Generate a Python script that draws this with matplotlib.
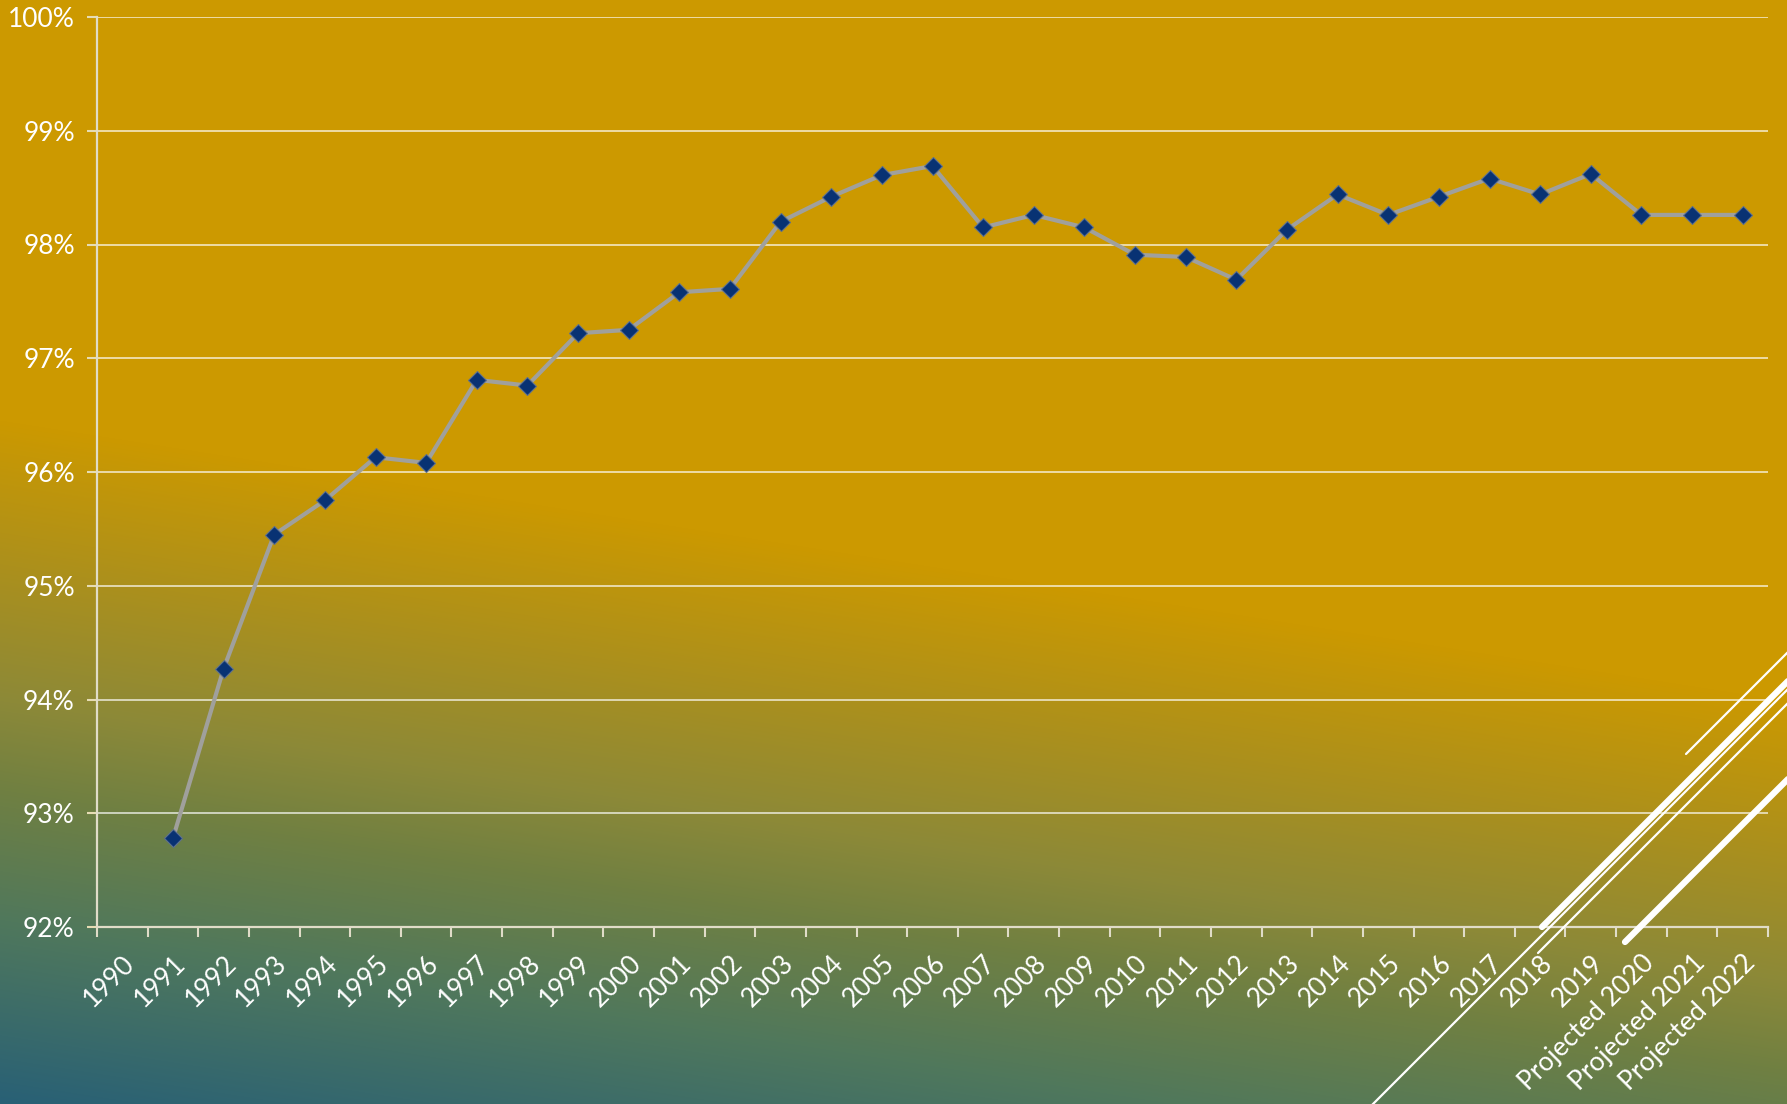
import numpy as np
import matplotlib
matplotlib.use("Agg")
import matplotlib.pyplot as plt
from matplotlib.lines import Line2D
from matplotlib.ticker import FixedLocator, FuncFormatter

plt.rcParams["font.family"] = ["Lato", "DejaVu Sans"]

# ---- data ----
years = [str(y) for y in range(1990, 2020)] + ["Projected 2020", "Projected 2021", "Projected 2022"]
rate = [np.nan,
        92.78, 94.27, 95.45, 95.75, 96.13, 96.08, 96.81, 96.76, 97.22, 97.25,
        97.58, 97.61, 98.20, 98.42, 98.61, 98.69, 98.15, 98.26, 98.15, 97.91,
        97.89, 97.69, 98.13, 98.44, 98.26, 98.42, 98.58, 98.44, 98.62,
        98.26, 98.26, 98.26]

W, H = 1787, 1104
fig = plt.figure(figsize=(W / 100, H / 100), dpi=100)

# ---- gradient background (gold to teal towards lower left) ----
bg = fig.add_axes([0, 0, 1, 1], zorder=-5)
yy, xx = np.mgrid[0:H, 0:W]
t = np.clip((yy - 420 - 0.157 * xx) / 684.0, 0, 1)
stops = [0.0, 0.21, 0.41, 0.54, 0.73, 1.0]
r = np.interp(t, stops, [204, 172, 140, 112, 80, 40])
g = np.interp(t, stops, [153, 144, 137, 128, 120, 96])
b = np.interp(t, stops, [0, 28, 56, 66, 92, 118])
img = np.dstack([r, g, b]) / 255.0
bg.imshow(img, aspect="auto", extent=(0, 1, 0, 1), origin="upper")
bg.set_axis_off()

# ---- main chart ----
ax = fig.add_axes([97 / W, 1 - 927 / H, (1768 - 97) / W, (927 - 17) / H])
ax.set_facecolor("none")

x = np.arange(len(years))
ax.plot(x, rate, color="#a0a09c", lw=3.0, zorder=3,
        marker="D", ms=9.5, mfc="#083273", mec="#5d7090", mew=0.8)

ax.set_ylim(92, 100)
ax.set_xlim(-0.5, len(years) - 0.5)
ax.set_yticks(np.arange(92, 101, 1))
ax.yaxis.set_major_formatter(FuncFormatter(lambda v, p: f"{v:.0f}%"))
ax.grid(axis="y", color="white", alpha=0.65, lw=1.4, zorder=1)

# tick marks on category boundaries, labels on centres
ax.xaxis.set_major_locator(FixedLocator(np.arange(-0.5, len(years), 1.0)))
ax.xaxis.set_major_formatter(FuncFormatter(lambda v, p: ""))
ax.xaxis.set_minor_locator(FixedLocator(x))
ax.set_xticklabels(years, minor=True, rotation=45, ha="right",
                   rotation_mode="anchor", color="white", fontsize=19)
ax.tick_params(axis="x", which="major", length=7, width=1.5, color="#e0dcc8", direction="out")
ax.tick_params(axis="x", which="minor", length=0, pad=17)
ax.tick_params(axis="y", length=7, width=1.5, color="#e6dcb4", labelcolor="white",
               labelsize=19, pad=9)

for side in ["top", "right"]:
    ax.spines[side].set_visible(False)
for side in ["left", "bottom"]:
    ax.spines[side].set_color("#e0dcc8")
    ax.spines[side].set_linewidth(1.6)

# ---- decorative diagonal strokes, figure pixel coords ----
strokes = [
    ((1686, 754), (1830, 610), 1.6),
    ((1542, 927), (1830, 639), 4.5),
    ((1353, 1124), (1830, 647), 1.6),
    ((1538, 953), (1830, 661), 1.6),
    ((1625, 942), (1830, 737), 4.5),
]
for (x0, y0), (x1, y1), lw in strokes:
    fig.add_artist(Line2D([x0 / W, x1 / W], [1 - y0 / H, 1 - y1 / H],
                          transform=fig.transFigure, color="white", lw=lw,
                          solid_capstyle="round", zorder=10))

fig.savefig("out.png", dpi=100)
